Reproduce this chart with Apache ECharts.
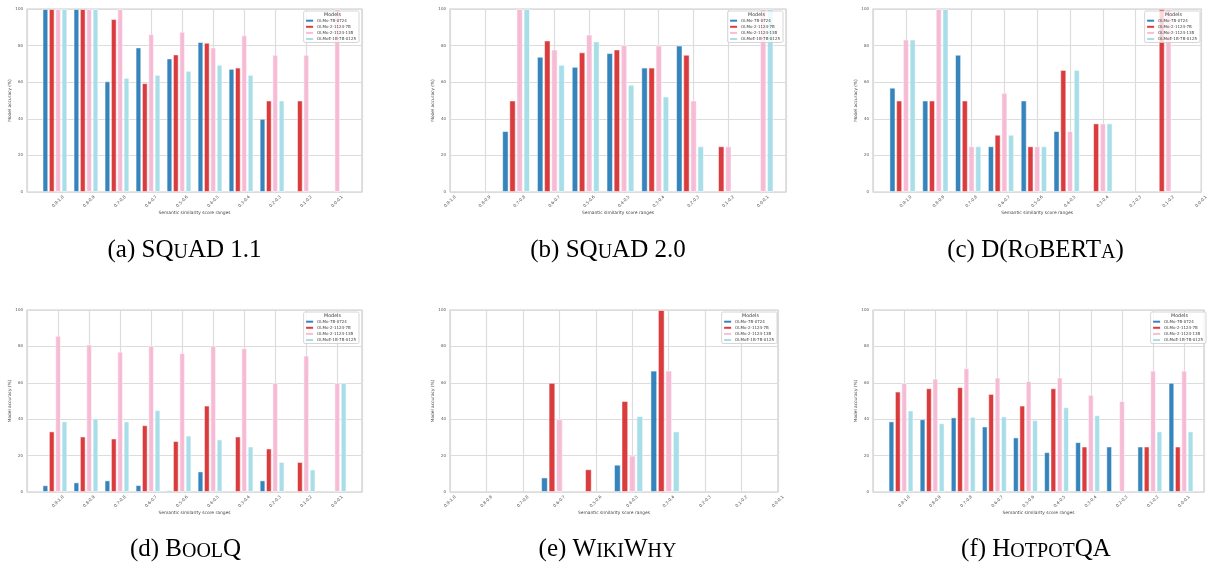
<!DOCTYPE html>
<html><head><meta charset="utf-8">
<script src="https://cdn.jsdelivr.net/npm/echarts@6/dist/echarts.min.js"></script>
<style>html,body{margin:0;padding:0;background:#fff}#c{width:1210px;height:562px}</style>
</head><body><div id="c"></div>
<script>
// ---- data ----
const categories = ['0.9-1.0','0.8-0.9','0.7-0.8','0.6-0.7','0.5-0.6','0.4-0.5','0.3-0.4','0.2-0.3','0.1-0.2','0.0-0.1'];
const models = ['OLMo-7B-0724','OLMo-2-1124-7B','OLMo-2-1124-13B','OLMoE-1B-7B-0125'];
const yTicks = [0, 20, 40, 60, 80, 100];
// one row per model (same order as models)
const squad11 = [
  [100,100,60.5,79,73,82,67.3,40,0,0],
  [100,100,94.5,59.5,75.2,81.6,68,50,50,0],
  [100,100,100,86.3,87.6,79,85.6,75,75,100],
  [100,100,62.4,64,66.2,69.5,64,50,0,0]
];
const squad20 = [
  [0,0,33.3,73.9,68.4,75.9,68,80,0,0],
  [0,0,50,82.8,76.3,77.9,68,75,25,0],
  [0,0,100,77.9,86,80.3,80,50,25,100],
  [0,0,100,69.5,82.3,58.6,52.2,25,0,100]
];
const droberta = [
  [57,50,75,25,50,33.3,0,0,0,0],
  [50,50,50,31.3,25,66.7,37.5,0,100,0],
  [83.3,100,25,54.2,25,33.3,37.5,0,100,0],
  [83.3,100,25,31.3,25,66.7,37.5,0,0,0]
];
const boolq = [
  [3.7,5.3,6.4,3.8,0.9,11.3,0,6.4,0,0],
  [33.3,30.5,29.4,36.7,28,47.5,30.5,23.9,16.5,0],
  [85.9,81,77.1,80.4,76.4,80.4,79,60,75,60],
  [38.8,40.4,38.8,45,31,28.9,25,16.5,12.4,60]
];
const wikiwhy = [
  [0,0,0,8,0,15,66.7,0,0,0],
  [0,0,0,60,12.5,50,100,0,0,0],
  [0,0,0,40,0,20,66.7,0,0,0],
  [0,0,0,0,0,41.7,33.3,0,0,0]
];
const hotpotqa = [
  [38.8,40,41,36,30,21.9,27.4,25,25,60],
  [55.2,57,57.6,53.9,47.5,57,25,0,25,25],
  [59.8,62.3,68,62.9,61,62.9,53.4,50,66.7,66.7],
  [44.8,37.8,41.3,41.5,39.5,46.6,42.2,0,33.3,33.3]
];
const captions = [
  '{n|(a) SQ}{s|U}{n|AD 1.1}',
  '{n|(b) SQ}{s|U}{n|AD 2.0}',
  '{n|(c) D(R}{s|O}{n|BERT}{s|A}{n|)}',
  '{n|(d) B}{s|OOL}{n|Q}',
  '{n|(e) W}{s|IKI}{n|W}{s|HY}',
  '{n|(f) H}{s|OTPOT}{n|QA}'
];

// ---- layout / style ----
const colors = ['#1f77b4', '#d62728', '#f7b6d2', '#9edae5'];
const datasets = [squad11, squad20, droberta, boolq, wikiwhy, hotpotqa];
const panels = [
  {left: 27,  top: 9,   width: 335, height: 183, xmin: -1, xmax: 9.8,  legRight: 851, capX: 184.5, capY: 250},
  {left: 450, top: 9,   width: 336, height: 183, xmin: 0,  xmax: 9.66, legRight: 427, capX: 608,   capY: 250},
  {left: 873, top: 9,   width: 329, height: 183, xmin: -1, xmax: 9,    legRight: 10,  capX: 1035.5, capY: 250},
  {left: 27,  top: 310, width: 335, height: 182, xmin: -1, xmax: 9.8,  legRight: 851, capX: 185.5, capY: 549.5},
  {left: 450, top: 310, width: 328, height: 182, xmin: 0,  xmax: 9,    legRight: 433, capX: 607.5, capY: 549.5},
  {left: 873, top: 310, width: 331, height: 182, xmin: -1, xmax: 9.64, legRight: 4,   capX: 1036,  capY: 549.5}
];
const FONT = 'DejaVu Sans';
const gridColor = '#dcdcdc';
const textColor = '#555';

const grid = [], xAxis = [], yAxis = [], series = [], legend = [], graphic = [];
const nPanels = panels.length;
panels.forEach((p, pi) => {
  grid.push({left: p.left, top: p.top, width: p.width, height: p.height,
    show: true, borderColor: '#cccccc', borderWidth: 1.2, backgroundColor: 'transparent'});
  // visible tick axis
  xAxis.push({type: 'value', gridIndex: pi, min: p.xmin, max: p.xmax, interval: 1,
    axisLine: {show: false}, axisTick: {show: false},
    splitLine: {show: true, lineStyle: {color: gridColor, width: 1.2}},
    axisLabel: {rotate: 45, align: 'center', verticalAlign: 'middle', margin: 9.5,
      fontSize: 4.2, fontFamily: FONT, color: textColor,
      formatter: v => (Number.isInteger(v) && v >= 0 && v < categories.length) ? categories[v] : ''},
    name: 'Semantic similarity score ranges', nameLocation: 'middle', nameGap: 18,
    nameTextStyle: {fontSize: 4.4, fontFamily: FONT, color: '#444'}
  });
  yAxis.push({type: 'value', gridIndex: pi, min: yTicks[0], max: yTicks[yTicks.length - 1], interval: 20,
    axisLine: {show: false}, axisTick: {show: false},
    splitLine: {show: true, lineStyle: {color: gridColor, width: 1.2}},
    axisLabel: {fontSize: 4, fontFamily: FONT, color: textColor, margin: 4},
    name: 'Model accuracy (%)', nameLocation: 'middle', nameGap: 14,
    nameTextStyle: {fontSize: 4.3, fontFamily: FONT, color: '#444'}
  });
  legend.push({orient: 'vertical', right: p.legRight, top: p.top + 2,
    data: models, itemWidth: 7, itemHeight: 2, itemGap: 2.1, icon: 'rect',
    itemStyle: {borderWidth: 0, opacity: 0.9},
    padding: [7.7, 3, 1.5, 2.5], borderColor: '#cccccc', borderWidth: 0.8, borderRadius: 1.5,
    backgroundColor: 'rgba(255,255,255,0.8)', selectedMode: false,
    textStyle: {fontSize: 4, lineHeight: 4, fontFamily: FONT, color: '#444', padding: [0, 0, 0, -1]}
  });
  graphic.push({type: 'text', z: 100, x: (1210 - p.legRight) - 26.5, y: p.top + 6,
    style: {text: 'Models', font: '4.8px "DejaVu Sans"', fill: '#333', align: 'center', verticalAlign: 'middle'}});
  graphic.push({type: 'text', z: 100, x: p.capX, y: p.capY,
    style: {text: captions[pi], align: 'center', verticalAlign: 'middle', fill: '#000',
      rich: {
        n: {fontFamily: 'Liberation Serif', fontSize: 25, verticalAlign: 'bottom', fill: '#000'},
        s: {fontFamily: 'Liberation Serif', fontSize: 20, verticalAlign: 'bottom', fill: '#000'}
      }}});
});
// hidden axes carrying the bars (group centred slightly left of each tick)
panels.forEach((p, pi) => {
  xAxis.push({type: 'value', gridIndex: pi, min: p.xmin + 0.1, max: p.xmax + 0.1, show: false,
    splitLine: {show: false}});
});
datasets.forEach((ds, pi) => {
  ds.forEach((vals, k) => {
    series.push({type: 'bar', name: models[k], xAxisIndex: nPanels + pi, yAxisIndex: pi,
      data: vals.map((v, i) => v === 0 ? {value: [i, v], itemStyle: {borderWidth: 0}} : [i, v]),
      barGap: '11%', barCategoryGap: '20%',
      itemStyle: {color: colors[k], opacity: 0.9, borderColor: 'rgba(255,255,255,0.55)', borderWidth: 1},
      emphasis: {disabled: true}, animation: false});
  });
});

const chart = echarts.init(document.getElementById('c'), null, {renderer: 'canvas'});
chart.setOption({animation: false, backgroundColor: '#fff', grid, xAxis, yAxis, series, legend, graphic,
  textStyle: {fontFamily: FONT}});
</script></body></html>
